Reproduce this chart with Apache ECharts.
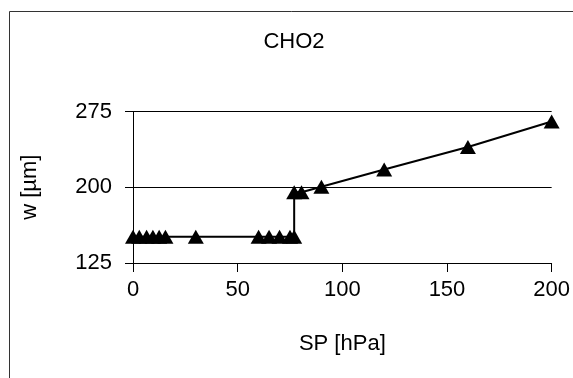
<!DOCTYPE html>
<html>
<head>
<meta charset="utf-8">
<script src="https://cdn.jsdelivr.net/npm/echarts@6/dist/echarts.min.js"></script>
<style>html,body{margin:0;padding:0;background:#fff}#c{width:573px;height:378px}</style>
</head>
<body>
<div id="c"></div>
<script>
var titleText = 'CHO2';
var xName = 'SP [hPa]';
var yName = 'w [µm]';
var spValues = [0, 3, 6.5, 9.5, 12.5, 15.5, 30, 60, 65, 70, 75, 77, 77, 80.5, 90, 120, 160, 200, 205];
var wValues = [151, 151, 151, 151, 151, 151, 151, 151, 151, 151, 151, 151, 195, 195, 200.5, 217.6, 239.8, 265.1, 268.2];
var hiddenMarker = [false, false, false, false, false, false, false, false, false, false, false, false, false, false, false, false, false, false, true];
var xTicks = [0, 50, 100, 150, 200];
var yTicks = [125, 200, 275];

var data = spValues.map(function (x, i) {
  var d = { value: [x, wValues[i]] };
  if (hiddenMarker[i]) d.symbol = 'none';
  return d;
});

var font = 'Liberation Sans, Arial, sans-serif';
var chart = echarts.init(document.getElementById('c'), null, { renderer: 'canvas' });
chart.setOption({
  animation: false,
  backgroundColor: '#fff',
  graphic: [{
    type: 'rect', shape: { x: 9.5, y: 11.5, width: 700, height: 500 },
    style: { fill: 'none', stroke: '#333', lineWidth: 1 }, z: -1
  }],
  title: {
    text: titleText, left: 289, top: 26, textAlign: 'center',
    textStyle: { fontFamily: font, fontSize: 22, fontWeight: 'normal', color: '#000' }
  },
  grid: { left: 133, right: 21, top: 111.5, bottom: 115, containLabel: false },
  xAxis: {
    type: 'value', min: xTicks[0], max: xTicks[xTicks.length - 1], interval: 50,
    name: xName, nameLocation: 'middle', nameGap: 70,
    nameTextStyle: { fontFamily: font, fontSize: 22, color: '#000' },
    axisLine: { show: true, lineStyle: { color: '#000', width: 1 } },
    axisTick: { show: true, length: 9, lineStyle: { color: '#000' } },
    axisLabel: { fontFamily: font, fontSize: 22, color: '#000', margin: 16 },
    splitLine: { show: false }
  },
  yAxis: {
    type: 'value', min: yTicks[0], max: yTicks[yTicks.length - 1], interval: 75,
    name: yName, nameLocation: 'middle', nameGap: 92, nameRotate: 90,
    nameTextStyle: { fontFamily: font, fontSize: 22, color: '#000' },
    axisLine: { show: true, lineStyle: { color: '#000', width: 1 } },
    axisTick: { show: true, length: 8, lineStyle: { color: '#000' } },
    axisLabel: { fontFamily: font, fontSize: 22, color: '#000', margin: 21 },
    splitLine: { show: true, lineStyle: { color: '#000', width: 1 } }
  },
  series: [{
    type: 'line', data: data, clip: false,
    symbol: 'triangle', symbolSize: [16, 14],
    itemStyle: { color: '#000' },
    lineStyle: { color: '#000', width: 2 }
  }]
});
</script>
</body>
</html>
